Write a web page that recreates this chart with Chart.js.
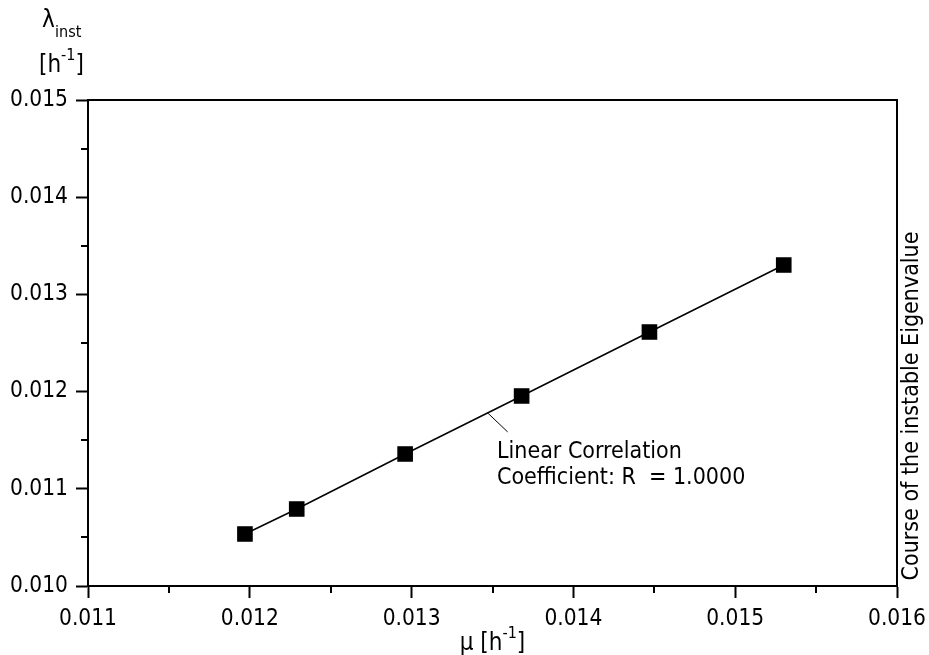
<!DOCTYPE html>
<html>
<head>
<meta charset="utf-8">
<script src="https://cdn.jsdelivr.net/npm/chart.js@4.4.1/dist/chart.umd.min.js"></script>
<style>
  html, body { margin: 0; padding: 0; background: #fff; }
  #wrap { width: 929px; height: 655px; }
</style>
</head>
<body>
<div id="wrap"><canvas id="c" width="929" height="655"></canvas></div>
<script>
// Eigenvalue vs growth rate
const muValues = [0.01197, 0.01229, 0.01296, 0.01368, 0.01447, 0.01530];
const lambdaValues = [0.010535, 0.010792, 0.011358, 0.011955, 0.012613, 0.013302];
const xTicks = [0.011, 0.012, 0.013, 0.014, 0.015, 0.016];
const yTicks = [0.010, 0.011, 0.012, 0.013, 0.014, 0.015];
const noteLines = ['Linear Correlation', 'Coefficient: R  = 1.0000'];
const rightTitle = 'Course of the instable Eigenvalue';

const FONT = '"DejaVu Sans Condensed", "DejaVu Sans", sans-serif';

// draws box, minor ticks and the free texts
const extras = {
  id: 'extras',
  afterDraw(chart){
    const ctx = chart.ctx;
    const a = chart.chartArea;
    const xs = chart.scales.x, ys = chart.scales.y;
    ctx.save();
    ctx.strokeStyle = '#000';
    ctx.lineWidth = 2;
    // top + right frame
    ctx.beginPath();
    ctx.moveTo(a.left, a.top);
    ctx.lineTo(a.right, a.top);
    ctx.lineTo(a.right, a.bottom);
    ctx.stroke();

    // minor ticks halfway between majors
    ctx.beginPath();
    for(let i = 0; i < xTicks.length - 1; i++){
      const px = Math.round(xs.getPixelForValue((xTicks[i] + xTicks[i+1]) / 2));
      ctx.moveTo(px, a.bottom);
      ctx.lineTo(px, a.bottom + 7);
    }
    for(let i = 0; i < yTicks.length - 1; i++){
      const py = Math.round(ys.getPixelForValue((yTicks[i] + yTicks[i+1]) / 2));
      ctx.moveTo(a.left, py);
      ctx.lineTo(a.left - 7, py);
    }
    ctx.stroke();

    // leader line from the fit line to the note
    const mx = 0.01347;
    const t = (mx - muValues[2]) / (muValues[3] - muValues[2]);
    const my = lambdaValues[2] + t * (lambdaValues[3] - lambdaValues[2]);
    const lx = xs.getPixelForValue(mx), ly = ys.getPixelForValue(my);
    ctx.lineWidth = 1;
    ctx.beginPath();
    ctx.moveTo(lx, ly);
    ctx.lineTo(lx + 20, ly + 19);
    ctx.stroke();

    ctx.fillStyle = '#000';
    ctx.textBaseline = 'alphabetic';
    ctx.textAlign = 'left';
    ctx.font = '23px ' + FONT;
    ctx.fillText(noteLines[0], 497, 458);
    ctx.fillText(noteLines[1], 497, 484);

    // y title at the top left
    ctx.font = '24px ' + FONT;
    ctx.fillText('\u03bb', 42, 27);
    ctx.font = '16px ' + FONT;
    ctx.fillText('inst', 55, 37);
    drawUnit(ctx, '', 39, 72);

    // x title, centred on the plot
    const w = unitWidth(ctx, '\u03bc ');
    drawUnit(ctx, '\u03bc ', (a.left + a.right) / 2 - w / 2, 650);

    // right title, rotated, baseline on the right
    ctx.save();
    ctx.translate(918, 406);
    ctx.rotate(-Math.PI / 2);
    ctx.font = '23px ' + FONT;
    ctx.textAlign = 'center';
    ctx.textBaseline = 'alphabetic';
    ctx.fillText(rightTitle, 0, 0);
    ctx.restore();

    ctx.restore();
  }
};

function unitWidth(ctx, prefix){
  ctx.font = '24px ' + FONT;
  let w = ctx.measureText(prefix + '[h').width + ctx.measureText(']').width;
  ctx.font = '16px ' + FONT;
  w += ctx.measureText('-1').width;
  return w;
}

function drawUnit(ctx, prefix, x, y){
  ctx.textAlign = 'left';
  ctx.textBaseline = 'alphabetic';
  ctx.font = '24px ' + FONT;
  ctx.fillText(prefix + '[h', x, y);
  x += ctx.measureText(prefix + '[h').width;
  ctx.font = '16px ' + FONT;
  ctx.fillText('-1', x, y - 12);
  x += ctx.measureText('-1').width;
  ctx.font = '24px ' + FONT;
  ctx.fillText(']', x, y);
}

const points = muValues.map((m, i) => ({ x: m, y: lambdaValues[i] }));

new Chart(document.getElementById('c'), {
  type: 'scatter',
  data: {
    datasets: [{
      data: points,
      showLine: true,
      borderColor: '#000',
      borderWidth: 1.5,
      backgroundColor: '#000',
      pointStyle: 'rect',
      pointRadius: 10,
      pointHoverRadius: 10
    }]
  },
  options: {
    responsive: false,
    animation: false,
    devicePixelRatio: 1,
    layout: { padding: { top: 100, right: 32, left: 0, bottom: 0 } },
    plugins: { legend: { display: false }, tooltip: { enabled: false } },
    scales: {
      x: {
        type: 'linear',
        min: xTicks[0],
        max: xTicks[xTicks.length - 1],
        afterBuildTicks: s => { s.ticks = xTicks.map(v => ({ value: v })); },
        afterFit: s => { s.height = 69; s.paddingLeft = 0; s.paddingRight = 0; },
        ticks: {
          callback: v => v.toFixed(3),
          font: { family: FONT, size: 22.5 },
          color: '#000',
          padding: 8,
          maxRotation: 0
        },
        grid: { drawOnChartArea: false, tickLength: 12, tickWidth: 2, tickColor: '#000' },
        border: { color: '#000', width: 2 }
      },
      y: {
        type: 'linear',
        min: yTicks[0],
        max: yTicks[yTicks.length - 1],
        afterBuildTicks: s => { s.ticks = yTicks.map(v => ({ value: v })); },
        afterFit: s => { s.width = 88; },
        ticks: {
          callback: v => v.toFixed(3),
          font: { family: FONT, size: 22.5 },
          color: '#000',
          padding: 8
        },
        grid: { drawOnChartArea: false, tickLength: 12, tickWidth: 2, tickColor: '#000' },
        border: { color: '#000', width: 2 }
      }
    }
  },
  plugins: [extras]
});
</script>
</body>
</html>
